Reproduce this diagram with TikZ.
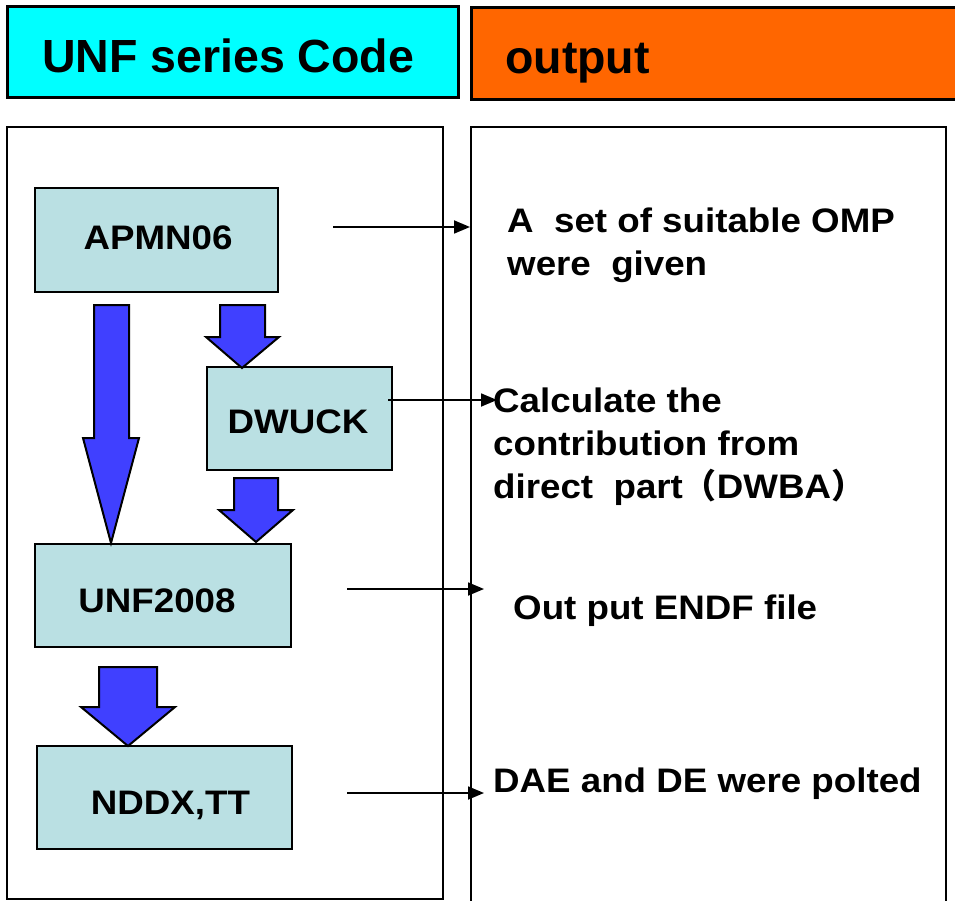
\documentclass[tikz,border=0pt]{standalone}
\usepackage{fontspec}
\setmainfont{Liberation Sans}
\newfontfamily\bodyf[FakeStretch=1.08]{Liberation Sans}
\newfontfamily\headf{Liberation Sans}
\newfontfamily\cjkf{Noto Sans CJK SC}
\usetikzlibrary{arrows.meta}
\definecolor{hdrcyan}{HTML}{00FFFF}
\definecolor{hdrorange}{HTML}{FF6600}
\definecolor{boxfill}{HTML}{BAE0E3}
\definecolor{bigblue}{HTML}{4040FF}
\tikzset{
  hdrbox/.style={draw=black,line width=3pt},
  panel/.style={draw=black,line width=2.6pt},
  codebox/.style={draw=black,line width=2.6pt,fill=boxfill,inner sep=0pt},
  hdrtext/.style={font={\headf\bfseries\fontsize{46.5}{50}\selectfont},inner sep=0pt,anchor=base west},
  lbl/.style={font={\bodyf\bfseries\fontsize{34}{43}\selectfont},inner sep=0pt,anchor=base},
  outtext/.style={font={\bodyf\bfseries\fontsize{34}{43}\selectfont},inner sep=0pt,anchor=base west,align=left},
  bigarrow/.style={draw=black,line width=2pt,fill=bigblue,line join=miter},
  thinarrow/.style={draw=black,line width=1.8pt,-{Triangle[length=16pt,width=13pt]}}
}
\begin{document}
\begin{tikzpicture}[x=1pt,y=-1pt]
\useasboundingbox (0,0) rectangle (955,901);
% headers
\path[hdrbox,fill=hdrcyan] (7,7) rectangle (458,98);
\path[hdrbox,fill=hdrorange] (471,8) rectangle (975,100);
\node[hdrtext] (hleft) at (42,73) {UNF series Code};
\node[hdrtext] (hright) at (505,74) {output};
% panels
\path[panel] (7,127) rectangle (443,899);
\path[panel] (471,127) rectangle (946,910);
% code boxes
\node[codebox,minimum width=243pt,minimum height=104pt] (apmn) at (156.5,240) {};
\node[codebox,minimum width=185pt,minimum height=103pt] (dwuck) at (299.5,418.5) {};
\node[codebox,minimum width=256pt,minimum height=103pt] (unf) at (163,595.5) {};
\node[codebox,minimum width=255pt,minimum height=103pt] (nddx) at (164.5,797.5) {};
\node[lbl] (apmnl) at (158,250) {APMN06};
\node[lbl] (dwuckl) at (298,433) {DWUCK};
\node[lbl] (unfl) at (157,612) {UNF2008};
\node[lbl] (nddxl) at (170.5,814) {NDDX,TT};
% block arrows
\path[bigarrow] (94,305) -- (129,305) -- (129,438) -- (139,438) -- (111,543) -- (83,438) -- (94,438) -- cycle;
\path[bigarrow] (220,305) -- (265,305) -- (265,337) -- (279,337) -- (242,368) -- (206,337) -- (220,337) -- cycle;
\path[bigarrow] (234,478) -- (278,478) -- (278,510) -- (293,510) -- (256,542) -- (219,510) -- (234,510) -- cycle;
\path[bigarrow] (99,667) -- (157,667) -- (157,707) -- (175,707) -- (128,746) -- (81,707) -- (99,707) -- cycle;
% outputs (base anchor is the last line)
\node[outtext] (out1) at (507,275) {A\ \ set of suitable OMP\\were\ \ given};
\node[outtext] (out2) at (493,498) {Calculate the\\contribution from\\direct\ \ part{\cjkf （}DWBA{\cjkf ）}};
\node[outtext] (out3) at (513,619) {Out put ENDF file};
\node[outtext] (out4) at (493,792) {DAE and DE were polted};
% thin arrows
\coordinate (s1) at (333,227); \coordinate (t1) at (470,227);
\coordinate (s2) at (388,400); \coordinate (t2) at (497,400);
\coordinate (s3) at (347,589); \coordinate (t3) at (484,589);
\coordinate (s4) at (347,793); \coordinate (t4) at (484,793);
\draw[thinarrow] (s1) -- (t1);
\draw[thinarrow] (s2) -- (t2);
\draw[thinarrow] (s3) -- (t3);
\draw[thinarrow] (s4) -- (t4);
\end{tikzpicture}
\end{document}
